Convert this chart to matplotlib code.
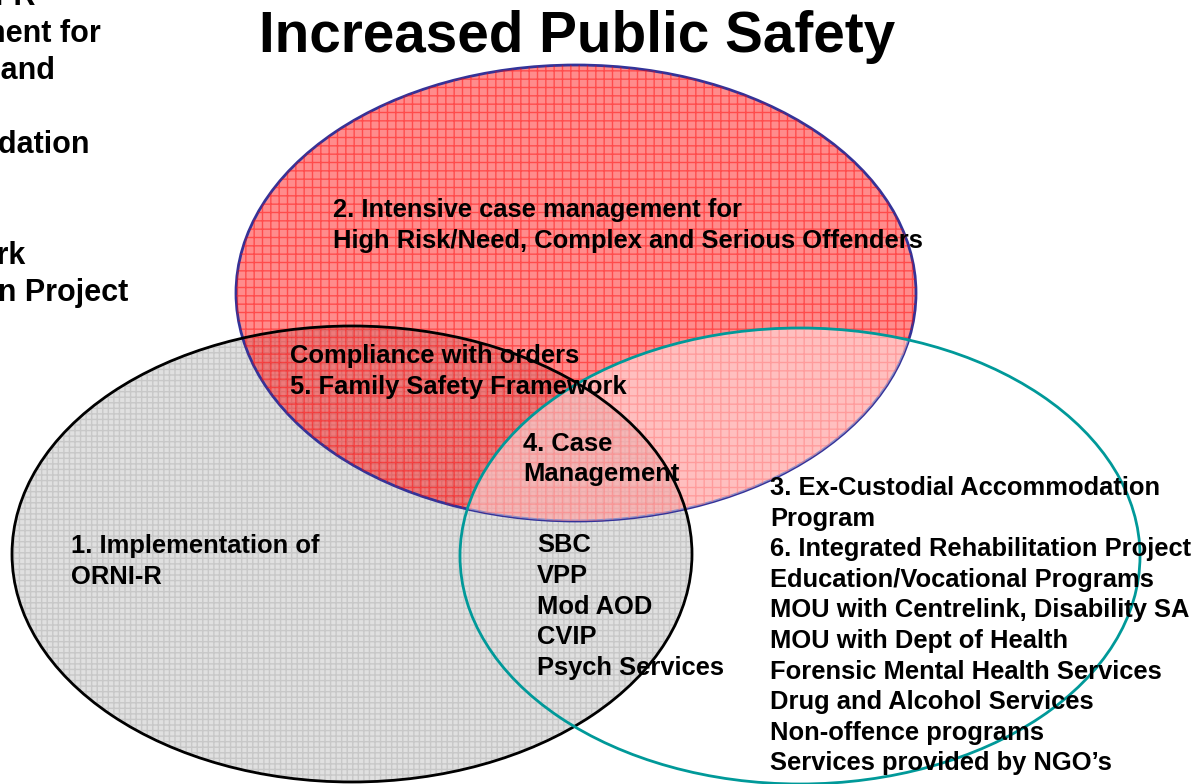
import matplotlib
matplotlib.use("Agg")
import matplotlib.pyplot as plt
from matplotlib.patches import Ellipse
from matplotlib import font_manager

# circle labels
title = "Increased Public Safety"
red_lines = ["2. Intensive case management for",
             "High Risk/Need, Complex and Serious Offenders"]
red_grey_lines = ["Compliance with orders", "5. Family Safety Framework"]
centre_lines = ["4. Case", "Management"]
grey_lines = ["1. Implementation of", "ORNI-R"]
grey_teal_lines = ["SBC", "VPP", "Mod AOD", "CVIP", "Psych Services"]
teal_lines = ["3. Ex-Custodial Accommodation", "Program",
              "6. Integrated Rehabilitation Project",
              "Education/Vocational Programs",
              "MOU with Centrelink, Disability SA",
              "MOU with Dept of Health",
              "Forensic Mental Health Services",
              "Drug and Alcohol Services",
              "Non-offence programs",
              "Services provided by NGO\u2019s"]
# text box sticking in from the left edge (only the ends show)
side_lines = ["1. Implementation of ORNI-R",
              "2. Intensive case management for",
              "High Risk/Need, Complex and",
              "3. Ex-Custodial Accommodation",
              "5. Family Safety Framework",
              "6. Integrated Rehabilitation Project"]
side_rows = [0, 1, 2, 4, 7, 8]
side_ends = [35, 101, 55, 90, 25, 128]

names = {f.name for f in font_manager.fontManager.ttflist}
narrow = "Liberation Sans Narrow" if "Liberation Sans Narrow" in names else "Liberation Sans"

plt.rcParams['font.family'] = ['Liberation Sans', 'DejaVu Sans']
plt.rcParams['hatch.linewidth'] = 1.0

fig = plt.figure(figsize=(11.96, 7.84), dpi=100)
ax = fig.add_axes([0, 0, 1, 1])
ax.set_xlim(0, 1196)
ax.set_ylim(784, 0)
ax.axis('off')

W, H = 680, 456
red_c = (576, 293)
grey_c = (352, 554)
teal_c = (800, 556)

# grey circle
ax.add_patch(Ellipse(grey_c, W, H, facecolor='#e0e0e0', edgecolor='none', zorder=1))
ax.add_patch(Ellipse(grey_c, W, H, fill=False, edgecolor='#c8c8c8', lw=0,
                     hatch='+++', zorder=1))

# red circle
red = Ellipse(red_c, W, H, facecolor=(1, 0, 0, 0.45), edgecolor='#333399', lw=2, zorder=2)
ax.add_patch(red)
ax.add_patch(Ellipse(red_c, W, H, fill=False, edgecolor=(1, 0, 0, 0.45), lw=0,
                     hatch='++', zorder=2))

# teal circle lightens the red part it covers
wash = Ellipse(teal_c, W, H, facecolor=(1, 1, 1, 0.45), edgecolor='none', zorder=3)
ax.add_patch(wash)
wash.set_clip_path(red)

ax.add_patch(Ellipse(grey_c, W, H, fill=False, edgecolor='black', lw=2, zorder=4))
ax.add_patch(Ellipse(teal_c, W, H, fill=False, edgecolor='#009999', lw=2, zorder=4))

ax.text(577, 52, title, fontsize=40.8, fontweight='bold', family=[narrow, 'DejaVu Sans'],
        ha='center', va='baseline', zorder=5)


def block(lines, x, y0, step, size=18.4):
    for i, s in enumerate(lines):
        ax.text(x, y0 + i * step, s, fontsize=size, fontweight='bold',
                ha='left', va='baseline', zorder=5)


block(red_lines, 333, 217, 31)
block(red_grey_lines, 290, 363, 31)
block(centre_lines, 523, 451, 30)
block(grey_lines, 71, 553, 31)
block(grey_teal_lines, 537, 552, 30.8)
block(teal_lines, 770, 495, 30.6)

for s, r, xe in zip(side_lines, side_rows, side_ends):
    ax.text(xe, 5 + 37 * r, s, fontsize=22, fontweight='bold',
            ha='right', va='baseline', zorder=5)

fig.savefig("out.png", dpi=100)
